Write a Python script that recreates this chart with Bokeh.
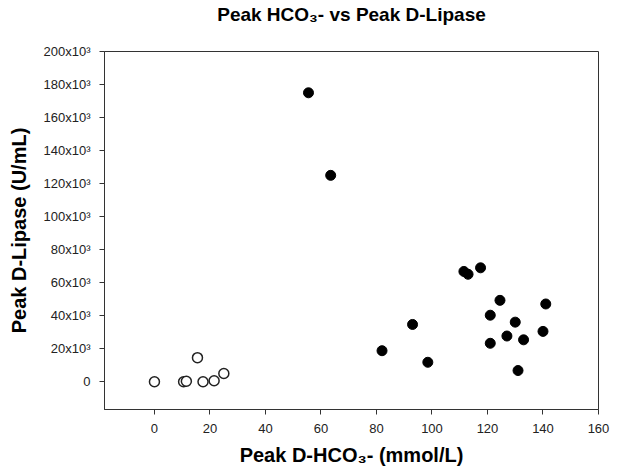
from bokeh.plotting import figure
from bokeh.models import Range1d, FixedTicker, CustomJSTickFormatter, LinearAxis
from bokeh.embed import file_html
from bokeh.resources import INLINE

# Open circles (group 1)
open_x = [0, 10.5, 11.5, 15.5, 17.5, 21.5, 25]
open_y = [0, 0, 300, 14600, 0, 600, 5000]

# Filled circles (group 2)
filled_x = [55.5, 63.5, 82, 93, 98.5, 111.5, 113, 117.5, 121, 121, 124.5, 127, 130, 131, 133, 140, 141]
filled_y = [175000, 125000, 18800, 34700, 11800, 66800, 65100, 69000, 40300, 23300,
            49300, 27700, 36100, 6800, 25400, 30500, 47100]

x_ticks = [0, 20, 40, 60, 80, 100, 120, 140, 160]
y_ticks = [0, 20000, 40000, 60000, 80000, 100000, 120000, 140000, 160000, 180000, 200000]

TITLE = "Peak HCO\u2083- vs Peak D-Lipase"
FONT = "Liberation Sans"

p = figure(width=626, height=468, output_backend="svg", toolbar_location=None,
           x_range=Range1d(-18, 160), y_range=Range1d(-16800, 200000),
           min_border_left=104, min_border_right=28, min_border_top=50, min_border_bottom=48)

xax = p.below[0]
yax = p.left[0]

p.grid.visible = False
p.outline_line_color = "#333333"
p.outline_line_width = 1

xax.ticker = FixedTicker(ticks=x_ticks)
yax.ticker = FixedTicker(ticks=y_ticks)
yax.formatter = CustomJSTickFormatter(code="""
    if (tick == 0) return "0";
    return (tick / 1000).toFixed(0) + "x10\u00b3";
""")

for ax in (xax, yax):
    ax.major_tick_in = 0
    ax.major_tick_out = 5
    ax.minor_tick_line_color = None
    ax.axis_line_color = "#333333"
    ax.major_tick_line_color = "#333333"
    ax.major_label_text_font = FONT
    ax.major_label_text_font_size = "13px"
    ax.major_label_text_color = "#222222"
    ax.axis_label_text_font = FONT
    ax.axis_label_text_font_size = "20px"
    ax.axis_label_text_font_style = "bold"
    ax.axis_label_text_color = "black"

xax.axis_label = "Peak D-HCO\u2083- (mmol/L)"
yax.axis_label = "Peak D-Lipase (U/mL)"
xax.major_label_standoff = 9
yax.major_label_standoff = 9
xax.axis_label_standoff = 8
yax.axis_label_standoff = 11

# Title drawn as the label of a bare axis above the frame (no ticks, no labels)
title_axis = LinearAxis(ticker=FixedTicker(ticks=[]), axis_label=TITLE)
title_axis.axis_line_color = None
title_axis.major_tick_line_color = None
title_axis.minor_tick_line_color = None
title_axis.major_label_text_color = None
title_axis.major_tick_in = 0
title_axis.major_tick_out = 0
title_axis.minor_tick_in = 0
title_axis.minor_tick_out = 0
title_axis.major_label_standoff = 0
title_axis.axis_label_standoff = 27
title_axis.axis_label_text_font = FONT
title_axis.axis_label_text_font_size = "19px"
title_axis.axis_label_text_font_style = "bold"
title_axis.axis_label_text_color = "black"
p.add_layout(title_axis, "above")

p.scatter(filled_x, filled_y, size=10, marker="circle", fill_color="black", line_color="black")
p.scatter(open_x, open_y, size=10, marker="circle", fill_color="white", line_color="#222222", line_width=1.5)

open("out.html", "w").write(file_html(p, INLINE))
